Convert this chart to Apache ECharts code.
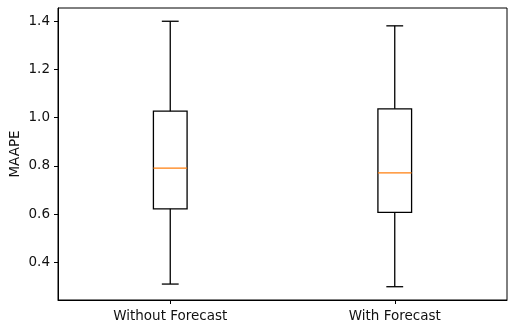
<!DOCTYPE html>
<html>
<head>
<meta charset="utf-8">
<script src="https://cdn.jsdelivr.net/npm/echarts@6/dist/echarts.min.js"></script>
<style>
  html, body { margin: 0; padding: 0; background: #fff; }
  #chart { width: 508px; height: 326px; }
</style>
</head>
<body>
<div id="chart"></div>
<script>
// Box plot summary for each group
const categories = ['Without Forecast', 'With Forecast'];
const whiskerLow  = [0.310, 0.299];
const quartile1   = [0.622, 0.607];
const medians     = [0.791, 0.771];
const quartile3   = [1.027, 1.037];
const whiskerHigh = [1.400, 1.381];
const yTicks = [0.4, 0.6, 0.8, 1.0, 1.2, 1.4];

const yMin = 0.2439;
const yMax = 1.455;

const rows = categories.map((c, i) => [i, whiskerLow[i], quartile1[i], medians[i], quartile3[i], whiskerHigh[i]]);

const textColor = '#111';
const font = 'DejaVu Sans';
const fontSize = 13.5;

const chart = echarts.init(document.getElementById('chart'), null, { renderer: 'canvas' });

function renderBox(params, api) {
  const idx = api.value(0);
  const lo = api.coord([idx, api.value(1)]);
  const q1 = api.coord([idx, api.value(2)]);
  const md = api.coord([idx, api.value(3)]);
  const q3 = api.coord([idx, api.value(4)]);
  const hi = api.coord([idx, api.value(5)]);
  const band = api.size([1, 0])[0];
  const bw = band * 0.15;
  const cw = bw / 2;
  const cx = lo[0];
  const line = { stroke: '#000', lineWidth: 1.3 };
  return {
    type: 'group',
    children: [
      { type: 'line', shape: { x1: cx, y1: q1[1], x2: cx, y2: lo[1] }, style: line },
      { type: 'line', shape: { x1: cx, y1: q3[1], x2: cx, y2: hi[1] }, style: line },
      { type: 'line', shape: { x1: cx - cw / 2, y1: lo[1], x2: cx + cw / 2, y2: lo[1] }, style: line },
      { type: 'line', shape: { x1: cx - cw / 2, y1: hi[1], x2: cx + cw / 2, y2: hi[1] }, style: line },
      { type: 'rect', shape: { x: cx - bw / 2, y: q3[1], width: bw, height: q1[1] - q3[1] },
        style: { stroke: '#000', fill: 'none', lineWidth: 1.3 } },
      { type: 'line', shape: { x1: cx - bw / 2, y1: md[1], x2: cx + bw / 2, y2: md[1] },
        style: { stroke: '#ff7f0e', lineWidth: 1.3 } }
    ]
  };
}

chart.setOption({
  animation: false,
  backgroundColor: '#fff',
  grid: {
    left: 58, right: 1, top: 8, bottom: 26,
    containLabel: false,
    outerBoundsMode: 'none',
    show: true, borderColor: '#000', borderWidth: 1, backgroundColor: 'transparent'
  },
  xAxis: {
    type: 'category',
    data: categories,
    boundaryGap: true,
    axisLine: { show: true, lineStyle: { color: '#000', width: 1 } },
    axisTick: { show: true, alignWithLabel: true, length: 4, lineStyle: { color: '#000', width: 1 } },
    axisLabel: { color: textColor, fontFamily: font, fontSize: fontSize, margin: 9 },
    splitLine: { show: false }
  },
  yAxis: {
    type: 'value',
    min: yMin,
    max: yMax,
    name: 'MAAPE',
    nameLocation: 'middle',
    nameGap: 36,
    nameMoveOverlap: false,
    nameTextStyle: { color: textColor, fontFamily: font, fontSize: fontSize },
    axisLine: { show: true, lineStyle: { color: '#000', width: 1 } },
    axisTick: { show: true, length: 4, customValues: yTicks, lineStyle: { color: '#000', width: 1 } },
    axisLabel: {
      color: textColor, fontFamily: font, fontSize: fontSize, margin: 8,
      customValues: yTicks,
      formatter: v => v.toFixed(1)
    },
    splitLine: { show: false }
  },
  series: [{
    type: 'custom',
    renderItem: renderBox,
    encode: { x: 0, y: [1, 2, 3, 4, 5] },
    data: rows,
    clip: false
  }]
});
</script>
</body>
</html>
